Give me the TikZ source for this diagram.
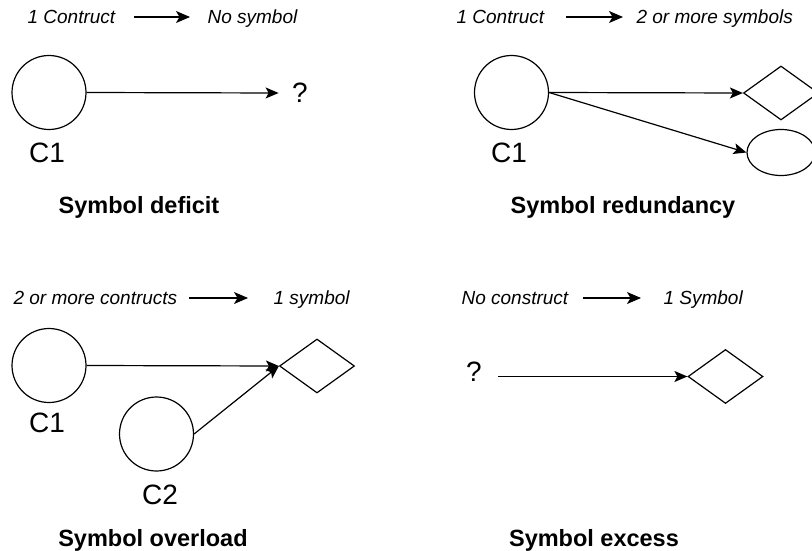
\documentclass[tikz,border=0pt]{standalone}
\usepackage{fontspec}
\setmainfont{Liberation Sans}
\usepackage{tikz}
\usetikzlibrary{shapes.geometric,arrows.meta}

\tikzset{
	circ/.style={draw, circle, minimum size=74pt, inner sep=0pt},
	rhomb/.style={draw, diamond, minimum width=75pt, minimum height=54pt, inner sep=0pt},
	oval/.style={draw, ellipse, minimum width=68pt, minimum height=46pt, inner sep=0pt},
	flow/.style={-{Stealth[length=13pt,width=11pt,inset=3pt]}},
	capflow/.style={-{Stealth[length=14pt,width=12pt,inset=3.5pt]}},
	capt/.style={anchor=west, inner xsep=0pt, text height=14pt, text depth=1pt,
		font=\fontsize{19}{22}\selectfont\itshape},
	lbl/.style={inner sep=0pt, font=\fontsize{28}{32}\selectfont},
	title/.style={anchor=base, inner sep=0pt, font=\fontsize{23.5}{27}\selectfont\bfseries}
}

\begin{document}
\begin{tikzpicture}[x=1pt, y=-1pt, line width=1.2pt]
		\useasboundingbox (0,0) rectangle (812,551);

		% symbol deficit
		\node[capt] (capa) at (27,17) {1 Contruct};
		\node[capt] (capb) at (207,17) {No symbol};
		\draw[capflow] ([xshift=18pt]capa.east) -- ([xshift=-17pt]capb.west);
		\node[circ] (defc) at (49,92.5) {};
		\node[lbl] (defq) at (300,93) {?};
		\draw[flow] (defc.east) -- ([xshift=-13pt]defq.west);
		\node[lbl] at (47,153) {C1};
		\node[title] at (139,213) {Symbol deficit};

		% symbol redundancy
		\node[capt] (capc) at (456,17) {1 Contruct};
		\node[capt] (capd) at (636,17) {2 or more symbols};
		\draw[capflow] ([xshift=21pt]capc.east) -- ([xshift=-13pt]capd.west);
		\node[circ] (redc) at (511.5,92.5) {};
		\node[rhomb] (redd) at (781,93) {};
		\node[oval] (rede) at (781,152.5) {};
		\draw[flow] (redc.east) -- (redd.west);
		\draw[flow] (redc.east) -- (rede.west);
		\node[lbl] at (509,153) {C1};
		\node[title] at (623,213) {Symbol redundancy};

		% symbol overload
		\node[capt] (cape) at (13,298) {2 or more contructs};
		\node[capt] (capf) at (273,298) {1 symbol};
		\draw[capflow] ([xshift=11pt]cape.east) -- ([xshift=-25pt]capf.west);
		\node[circ] (ovla) at (49,365.5) {};
		\node[circ] (ovlb) at (156.5,434) {};
		\node[rhomb] (ovld) at (317,366) {};
		\draw[flow] (ovla.east) -- (ovld.west);
		\draw[flow] (ovlb.east) -- (ovld.west);
		\node[lbl] at (47,423) {C1};
		\node[lbl] at (160,495) {C2};
		\node[title] at (153,546) {Symbol overload};

		% symbol excess
		\node[capt] (capg) at (461,298) {No construct};
		\node[capt] (caph) at (663,298) {1 Symbol};
		\draw[capflow] ([xshift=14pt]capg.east) -- ([xshift=-22pt]caph.west);
		\node[lbl] (excq) at (474,372) {?};
		\node[rhomb] (excd) at (725.5,376.5) {};
		\draw[flow] ([xshift=16pt]excq.east |- excd.west) -- (excd.west);
		\node[title] at (594,546) {Symbol excess};
\end{tikzpicture}
\end{document}
